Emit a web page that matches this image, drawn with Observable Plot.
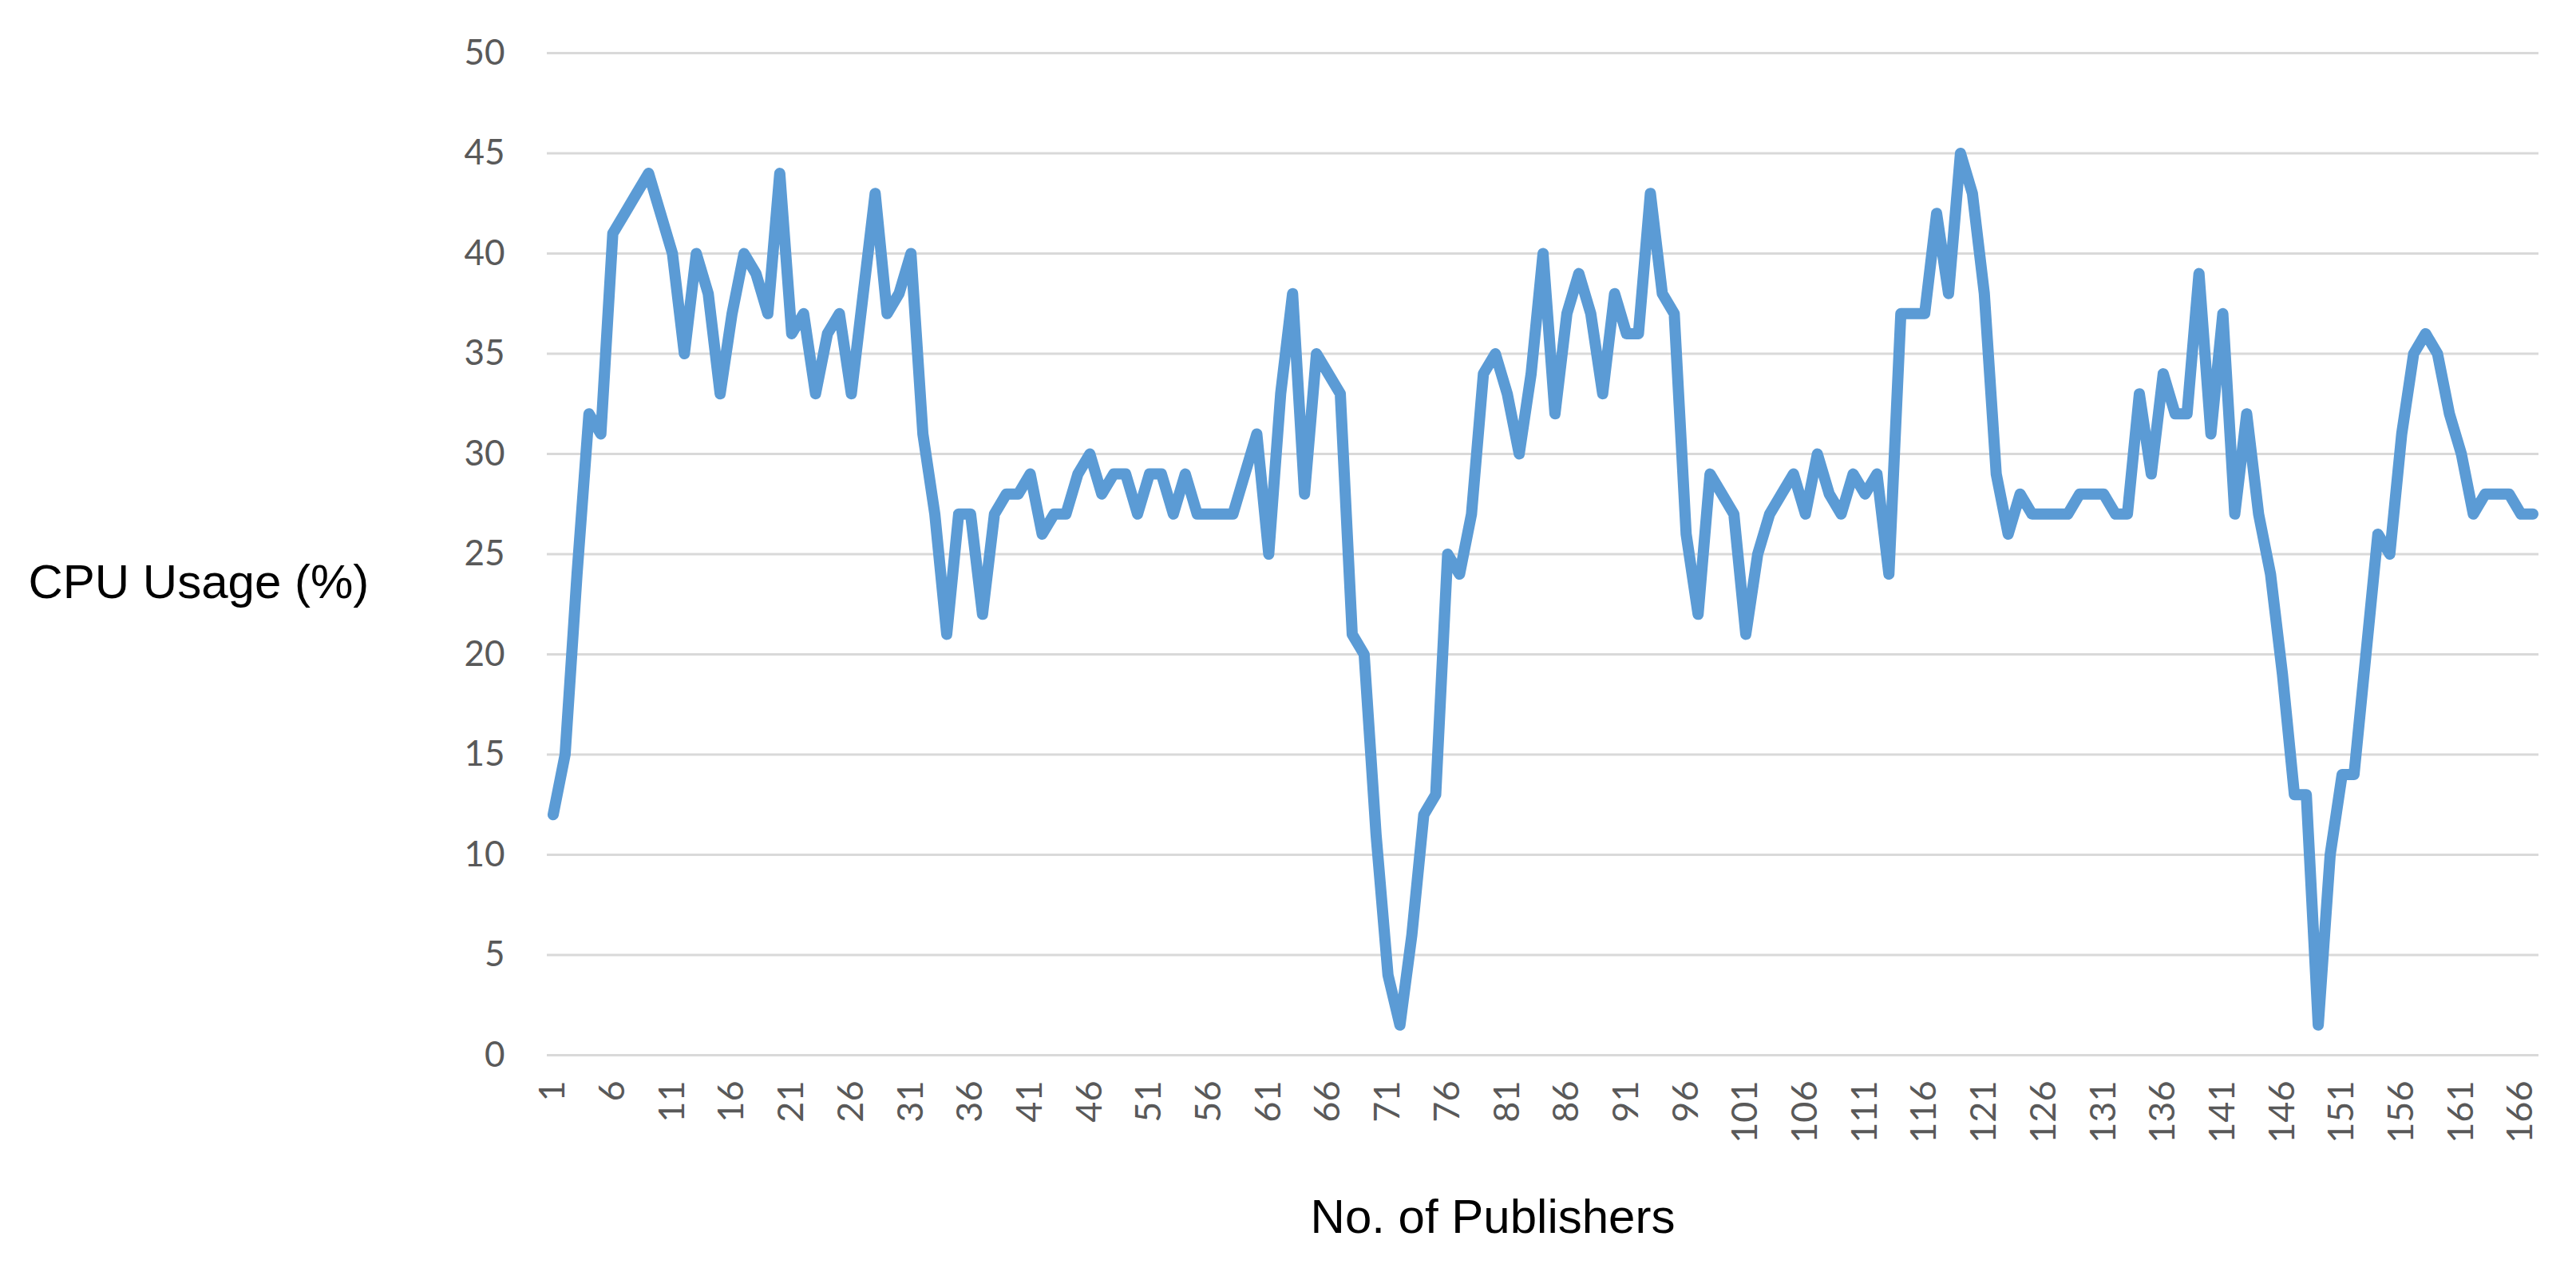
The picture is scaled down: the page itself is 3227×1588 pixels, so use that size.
<!DOCTYPE html>
<html>
<head>
<meta charset="utf-8">
<script src="https://cdn.jsdelivr.net/npm/d3@7"></script>
<script src="https://cdn.jsdelivr.net/npm/@observablehq/plot@0.6"></script>
<style>
  html, body { margin: 0; padding: 0; background: #ffffff; }
  #chart svg { display: block; }
</style>
</head>
<body>
<div id="chart"></div>
<script>
// CPU usage (%) for each number of publishers (1..167)
const cpuUsage = [
  12, 15, 24, 32, 31, 41, 42, 43, 44, 42,
  40, 35, 40, 38, 33, 37, 40, 39, 37, 44,
  36, 37, 33, 36, 37, 33, 38, 43, 37, 38,
  40, 31, 27, 21, 27, 27, 22, 27, 28, 28,
  29, 26, 27, 27, 29, 30, 28, 29, 29, 27,
  29, 29, 27, 29, 27, 27, 27, 27, 29, 31,
  25, 33, 38, 28, 35, 34, 33, 21, 20, 11,
  4, 1.5, 6, 12, 13, 25, 24, 27, 34, 35,
  33, 30, 34, 40, 32, 37, 39, 37, 33, 38,
  36, 36, 43, 38, 37, 26, 22, 29, 28, 27,
  21, 25, 27, 28, 29, 27, 30, 28, 27, 29,
  28, 29, 24, 37, 37, 37, 42, 38, 45, 43,
  38, 29, 26, 28, 27, 27, 27, 27, 28, 28,
  28, 27, 27, 33, 29, 34, 32, 32, 39, 31,
  37, 27, 32, 27, 24, 19, 13, 13, 1.5, 10,
  14, 14, 20, 26, 25, 31, 35, 36, 35, 32,
  30, 27, 28, 28, 28, 27, 27
];
const xTicks = [1, 6, 11, 16, 21, 26, 31, 36, 41, 46, 51, 56, 61, 66, 71, 76, 81,
  86, 91, 96, 101, 106, 111, 116, 121, 126, 131, 136, 141, 146, 151, 156, 161, 166];
const yTicks = [0, 5, 10, 15, 20, 25, 30, 35, 40, 45, 50];
const yLabel = "CPU Usage (%)";
const xLabel = "No. of Publishers";

const rows = cpuUsage.map((v, i) => ({publishers: i + 1, cpu: v}));

const chart = Plot.plot({
  width: 3227,
  height: 1588,
  marginLeft: 685,
  marginRight: 47,
  marginTop: 66,
  marginBottom: 267,
  style: {fontFamily: "Lato, 'Open Sans', sans-serif", fontSize: "44px", color: "#595959", background: "#ffffff"},
  x: {domain: [0.5, cpuUsage.length + 0.5]},
  y: {domain: [0, 50]},
  marks: [
    Plot.gridY(yTicks, {stroke: "#d9d9d9", strokeOpacity: 1, strokeWidth: 3}),
    Plot.axisY(yTicks, {tickSize: 0, tickPadding: 53, label: null, fontSize: 44}),
    Plot.axisX(xTicks, {tickSize: 0, tickPadding: 32, tickRotate: -90, label: null, fontSize: 45}),
    Plot.line(rows, {x: "publishers", y: "cpu", stroke: "#5b9bd5", strokeWidth: 14, strokeLinejoin: "round", strokeLinecap: "round"}),
    Plot.text([yLabel], {text: d => d, frameAnchor: "left", textAnchor: "start", dx: -650, dy: 36,
      fontSize: 60, fontFamily: "'Liberation Sans', Arial, sans-serif", fill: "#000000"}),
    Plot.text([xLabel], {text: d => d, frameAnchor: "bottom", textAnchor: "middle", dx: -63, dy: 222,
      fontSize: 60, fontFamily: "'Liberation Sans', Arial, sans-serif", fill: "#000000"})
  ]
});
document.getElementById("chart").append(chart);
</script>
</body>
</html>
